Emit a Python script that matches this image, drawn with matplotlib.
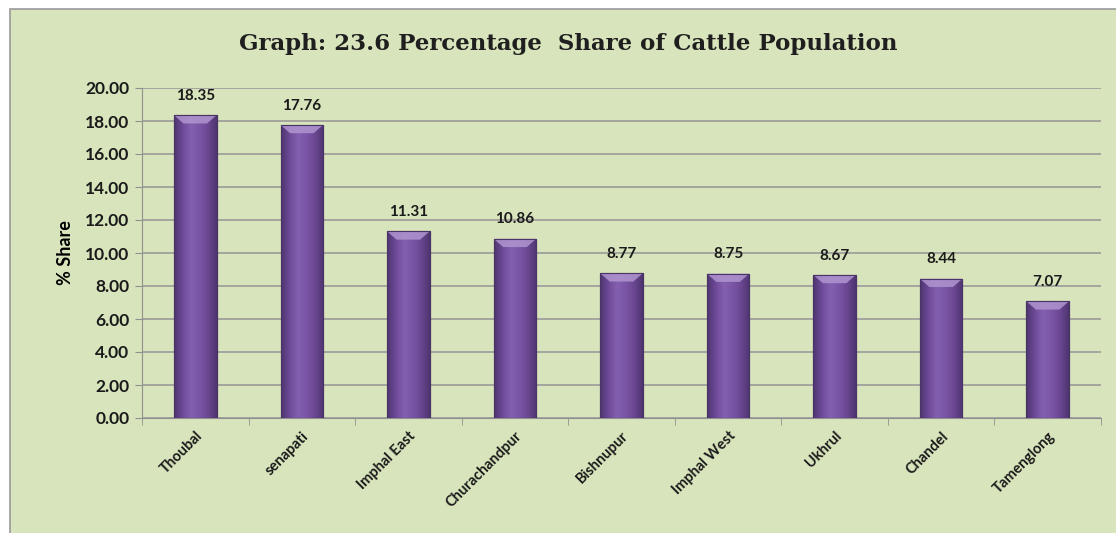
import numpy as np
import matplotlib.pyplot as plt
from matplotlib.patches import Rectangle, Polygon
from matplotlib.colors import LinearSegmentedColormap

districts = ['Thoubal', 'senapati', 'Imphal East', 'Churachandpur', 'Bishnupur',
             'Imphal West', 'Ukhrul', 'Chandel', 'Tamenglong']
share = [18.35, 17.76, 11.31, 10.86, 8.77, 8.75, 8.67, 8.44, 7.07]

bg = '#d8e4bc'
sans = 'Lato'
fig = plt.figure(figsize=(11.16, 5.33), dpi=100, facecolor='white')
fig.add_artist(Rectangle((10/1116, -0.01), 1.02, 1 - 9/533 + 0.01, transform=fig.transFigure,
                         facecolor=bg, edgecolor='#9a9a9a', lw=1.2, zorder=-1))

ax = fig.add_axes([142/1116, 1 - 418/533, (1101 - 142)/1116, (418 - 88)/533])
ax.set_facecolor(bg)

x = np.arange(len(districts))
bars = ax.bar(x, share, width=0.4, color='#7650a0', edgecolor='#4a3466', lw=0.8, zorder=3)

# horizontal gradient to mimic the bevelled Excel bars
cmap = LinearSegmentedColormap.from_list('bev', ['#4e3570', '#6e4a98', '#8460b0',
                                                 '#7a55a6', '#6a4792', '#4e3570'])
grad = np.linspace(0, 1, 64).reshape(1, -1)
for b in bars:
    bx, bw, bh = b.get_x(), b.get_width(), b.get_height()
    im = ax.imshow(grad, cmap=cmap, extent=(bx, bx + bw, 0, bh), aspect='auto',
                   interpolation='bilinear', zorder=3.5)
    im.set_clip_path(b)
    d = 0.09
    ax.add_patch(Polygon([(bx, bh), (bx + bw, bh), (bx + bw - d, bh - 0.5), (bx + d, bh - 0.5)],
                         closed=True, facecolor='#b095d0', edgecolor='none', alpha=0.85, zorder=4))
    ax.add_patch(Rectangle((bx, 0), bw, bh, facecolor='none', edgecolor='#4a3466',
                           lw=0.8, zorder=4.5))

for xi, v in zip(x, share):
    ax.text(xi, v + 0.75, f'{v:.2f}', ha='center', va='bottom', fontsize=11,
            fontweight='bold', family=sans, color='#1a1a1a')

ax.set_xlim(-0.5, len(districts) - 0.5)
ax.set_ylim(0, 20)
ax.set_yticks(np.arange(0, 21, 2))
ax.set_yticklabels([f'{t:.2f}' for t in np.arange(0, 21, 2)])
ax.set_xticks(x)
ax.set_xticklabels(districts, rotation=45, ha='right', rotation_mode='anchor')
ax.set_xticks(np.arange(-0.5, len(districts)), minor=True)
ax.tick_params(axis='x', which='major', length=0, pad=8)
ax.tick_params(axis='x', which='minor', length=5, color='#909090', direction='out')
ax.tick_params(axis='y', length=5, color='#909090', pad=4)
for lab in ax.get_xticklabels() + ax.get_yticklabels():
    lab.set_fontweight('bold')
    lab.set_family(sans)
    lab.set_color('#1a1a1a')
for lab in ax.get_xticklabels():
    lab.set_fontsize(10.5)
for lab in ax.get_yticklabels():
    lab.set_fontsize(12.5)

ax.grid(axis='y', color='#9a9a9a', lw=1.2, zorder=0)
for s in ['top', 'right']:
    ax.spines[s].set_visible(False)
ax.spines['left'].set_color('#909090')
ax.spines['bottom'].set_color('#909090')

ax.set_ylabel('% Share', fontsize=13, fontweight='bold', family=sans, labelpad=8)
fig.text(568/1116, 1 - 44/533, 'Graph: 23.6 Percentage  Share of Cattle Population',
         ha='center', va='center', fontsize=16.5, fontweight='bold', family='DejaVu Serif',
         color='#1f1f1f')

fig.savefig('out.png', dpi=100, facecolor='white')
